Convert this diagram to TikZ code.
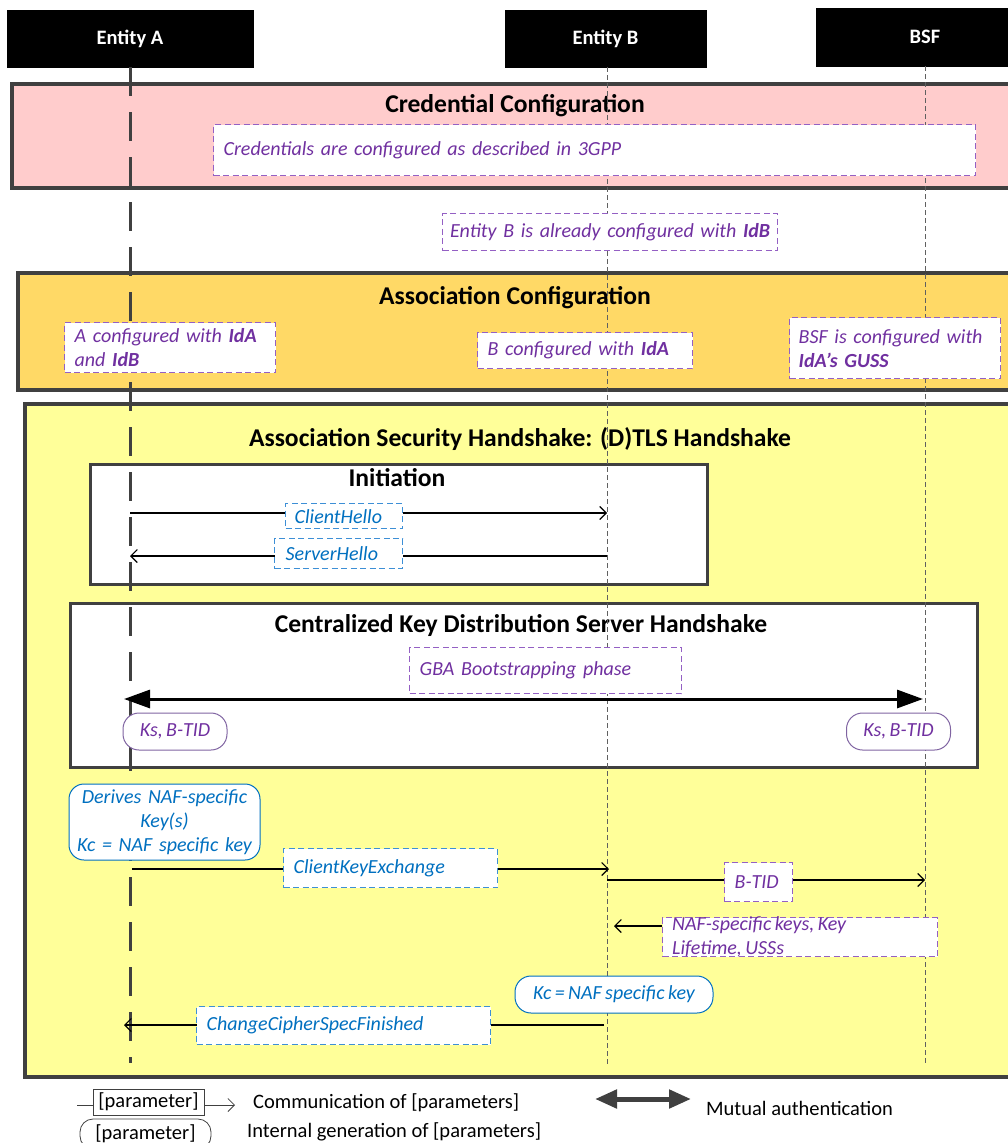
\documentclass[tikz,border=0pt]{standalone}
\usepackage{fontspec}
\setmainfont{Carlito}
\usetikzlibrary{arrows.meta}

\definecolor{frame}{HTML}{404040}
\definecolor{credfill}{HTML}{FFCCCC}
\definecolor{assocfill}{HTML}{FFD966}
\definecolor{secfill}{HTML}{FFFF99}
\definecolor{purptext}{HTML}{7030A0}
\definecolor{purpline}{HTML}{9460C4}
\definecolor{bluetext}{HTML}{0070C0}
\definecolor{blueline}{HTML}{3D8FD6}
\definecolor{genpurp}{HTML}{8064A2}
\definecolor{lifegray}{HTML}{606060}

\newcommand\labelfont{\fontsize{20}{24}\selectfont\itshape\spaceskip=0.17em\relax}
\newcommand\phasefont{\fontsize{25.6}{30}\selectfont\bfseries}
\newcommand\legendfont{\fontsize{20.5}{24}\selectfont}

\begin{document}
\begin{tikzpicture}[x=1pt, y=-1pt,
  actor/.style={fill=black, draw=black, text=white, inner sep=0pt,
    font=\fontsize{20.5}{24}\selectfont\bfseries},
  phasebox/.style={draw=frame, line width=4pt, anchor=north west, inner sep=0pt},
  subphasebox/.style={draw=frame, line width=3pt, fill=white, anchor=north west, inner sep=0pt},
  phasetitle/.style={font=\phasefont, inner sep=0pt},
  notebox/.style={fill=white, dash pattern=on 6pt off 3.5pt, line width=1.3pt,
    anchor=north west, inner ysep=0pt, align=left, font=\labelfont},
  pnote/.style={notebox, draw=purpline, text=purptext},
  bnote/.style={notebox, draw=blueline, text=bluetext},
  genbox/.style={fill=white, line width=1pt, rounded corners=16pt, inner sep=0pt,
    align=center, font=\labelfont},
  pgen/.style={genbox, draw=genpurp, text=purptext},
  bgen/.style={genbox, draw=bluetext, text=bluetext},
  lifeA/.style={draw=frame, line width=3pt, dash pattern=on 29pt off 16pt},
  lifeN/.style={draw=lifegray, line width=0.6pt, dash pattern=on 5pt off 3pt},
  msg/.style={line width=1.1pt, -{Straight Barb[length=6.5pt,width=13pt]}},
  bothway/.style={line width=3pt, {Triangle[length=26pt,width=18pt]}-{Triangle[length=26pt,width=18pt]}},
  legtext/.style={anchor=west, font=\legendfont, inner sep=0pt},
]
\useasboundingbox (0,0) rectangle (1008,1143);
\clip (0,0) rectangle (1008,1143);

% participants
\node[actor, minimum width=246pt, minimum height=57pt] (entA) at (130,38.5) {Entity A};
\node[actor, minimum width=201pt, minimum height=57pt] (entB) at (605.5,38.5) {Entity B};
\node[actor, minimum width=218pt, minimum height=58pt] (bsf) at (925,37) {BSF};

% phases
\node[phasebox, fill=credfill, minimum width=1030pt, minimum height=104pt] (cred) at (10,82) {};
\node[phasetitle] (credT) at (515,106) {Credential Configuration};
\node[phasebox, fill=assocfill, minimum width=1030pt, minimum height=117pt] (assoc) at (16,271) {};
\node[phasetitle] (assocT) at (515,298) {Association Configuration};
\node[phasebox, fill=secfill, minimum width=1030pt, minimum height=673pt] (sec) at (23,402) {};
\node[phasetitle] (secT) at (520,439) {Association Security Handshake: (D)TLS Handshake};
\node[subphasebox, minimum width=617pt, minimum height=120pt] (init) at (89,463) {};
\node[phasetitle] (initT) at (397,478) {Initiation};
\node[subphasebox, minimum width=907pt, minimum height=164pt] (cent) at (69,602) {};
\node[phasetitle] (centT) at (521,626) {Centralized Key Distribution Server Handshake};

% lifelines
\coordinate (endA) at (130,1063);
\coordinate (endB) at (607,1065);
\coordinate (endS) at (925,1065);
\draw[lifeA] (entA.south) -- (endA);
\draw[lifeN] (entB.south -| endB) -- (endB);
\draw[lifeN] (bsf.south) -- (endS);

% configuration notes
\node[pnote, text width=742pt, inner xsep=10pt, minimum height=51pt] (credN) at (213,124)
  {Credentials are configured as described in 3GPP};
\node[pnote, align=center, text width=333pt, inner xsep=1pt, minimum height=37pt] (idbN) at (442,213)
  {Entity B is already configured with \textbf{IdB}};
\node[pnote, text width=191pt, inner xsep=10pt, minimum height=50pt] (idaN) at (64,322)
  {A configured with \textbf{IdA}\\and \textbf{IdB}};
\node[pnote, text width=195pt, inner xsep=10pt, minimum height=36pt] (bcfgN) at (477,332)
  {B configured with \textbf{IdA}};
\node[pnote, text width=193pt, inner xsep=9pt, minimum height=61pt] (gussN) at (789,317)
  {BSF is configured with\\\textbf{IdA’s GUSS}};

% initiation
\coordinate (ch0) at (130,513); \coordinate (ch1) at (607,513);
\draw[msg] (ch0) -- (ch1);
\node[bnote, text width=99pt, inner xsep=9pt, minimum height=25pt] (chN) at (285,503) {ClientHello};
\coordinate (sh0) at (607,556); \coordinate (sh1) at (130,556);
\draw[msg] (sh0) -- (sh1);
\node[bnote, text width=106pt, inner xsep=11pt, minimum height=30pt] (shN) at (274,538) {ServerHello};

% bootstrapping
\node[pnote, text width=252pt, inner xsep=10pt, minimum height=46pt] (gbaN) at (409,647) {GBA Bootstrapping phase};
\coordinate (g0) at (124,699); \coordinate (g1) at (923,699);
\draw[bothway] (g0) -- (g1);
\node[pgen, minimum width=104pt, minimum height=37pt] (ksA) at (175,731.5) {Ks, B-TID};
\node[pgen, minimum width=104pt, minimum height=37pt] (ksS) at (898.5,731.5) {Ks, B-TID};

% key exchange
\node[bgen, rounded corners=15pt, minimum width=191pt, minimum height=76pt, text width=189pt] (derive) at (164.5,822)
  {Derives NAF-specific\\Key(s)\\Kc = NAF specific key};
\coordinate (k0) at (132,869); \coordinate (k1) at (609,869);
\draw[msg] (k0) -- (k1);
\node[bnote, text width=194pt, inner xsep=10pt, minimum height=39pt] (ckeN) at (283,848) {ClientKeyExchange};
\coordinate (t0) at (607,880); \coordinate (t1) at (925,880);
\draw[msg] (t0) -- (t1);
\node[pnote, text width=48pt, inner xsep=10pt, minimum height=39pt] (btidN) at (724,862) {B-TID};
\node[pnote, minimum width=275pt, minimum height=39pt] (nafN) at (662,917) {};
\node[anchor=north west, inner sep=0pt, font=\labelfont, text=purptext, align=left] (nafT) at (672,916)
  {NAF-specific keys, Key\\Lifetime, USSs};
\coordinate (n1) at (614,926);
\draw[msg] (nafN.west |- n1) -- (n1);
\node[bgen, minimum width=198pt, minimum height=37pt] (kcB) at (614,994.5) {Kc = NAF specific key};
\coordinate (c0) at (604,1025); \coordinate (c1) at (124,1025);
\draw[msg] (c0) -- (c1);
\node[bnote, text width=274pt, inner xsep=10pt, minimum height=38pt] (ccsN) at (196,1006) {ChangeCipherSpecFinished};

% legend
\node[draw=frame, line width=0.8pt, inner sep=0pt, minimum width=111pt, minimum height=26pt, font=\legendfont] (legMsg) at (148.5,1102) {[parameter]};
\coordinate (lm0) at (77,1105); \coordinate (lm1) at (235,1105);
\draw[line width=0.8pt, draw=frame] (lm0) -- (lm0 -| legMsg.west);
\draw[msg, line width=0.8pt, draw=frame] (legMsg.east |- lm1) -- (lm1);
\node[legtext] (legMsgT) at (253,1103) {Communication of [parameters]};
\node[draw=frame, line width=0.8pt, rounded corners=13pt, inner sep=0pt, minimum width=131pt, minimum height=30pt, font=\legendfont] (legGen) at (145.5,1134) {[parameter]};
\node[legtext] (legGenT) at (247,1132) {Internal generation of [parameters]};
\coordinate (mu0) at (595,1099); \coordinate (mu1) at (691,1099);
\draw[line width=5pt, draw=frame, {Triangle[length=22pt,width=18pt]}-{Triangle[length=22pt,width=18pt]}] (mu0) -- (mu1);
\node[legtext] (legMuT) at (706,1108) {Mutual authentication};
\end{tikzpicture}
\end{document}
